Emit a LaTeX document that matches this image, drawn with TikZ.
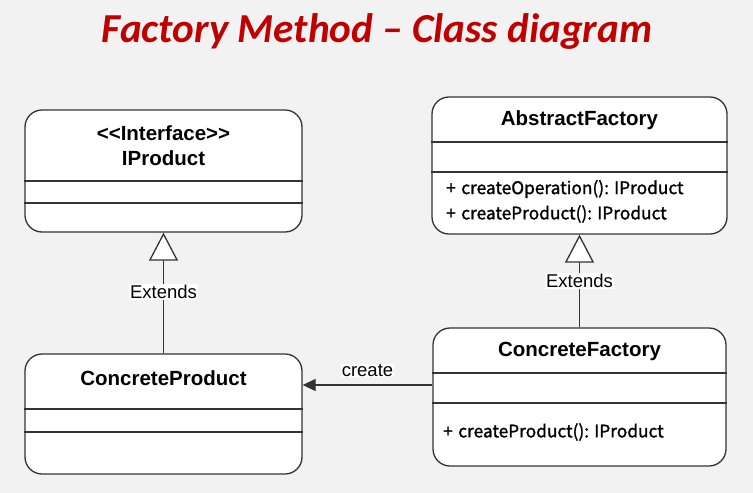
\documentclass[tikz,border=0pt]{standalone}
\usepackage{fontspec}
\setmainfont{Liberation Sans}[Ligatures=NoCommon]
\newfontfamily\titlefont{Carlito}
\newfontfamily\methfont{Noto Sans CJK KR}[FakeBold=1.3]
\usetikzlibrary{arrows.meta,positioning,calc}
\definecolor{bg}{HTML}{F2F2F2}
\definecolor{titlered}{HTML}{C00000}
\definecolor{edge}{HTML}{333333}
\newcommand{\plusgap}{+\hspace{5.5pt}}
\tikzset{
  classbox/.style={draw=edge, fill=white, line width=1.3pt, rounded corners=17pt, inner sep=0pt},
  sepline/.style={draw=edge, line width=1.3pt},
  cname/.style={font=\fontsize{20.5}{25}\selectfont\bfseries, align=center, inner sep=0pt},
  meth/.style={font=\methfont\fontsize{17.3}{20}\selectfont, anchor=west, inner sep=0pt},
  conn/.style={draw=edge, line width=1.3pt},
  lbl/.style={font=\fontsize{18.5}{20}\selectfont, fill=white, inner sep=1pt},
  extarrow/.style={conn, -{Triangle[length=28pt,width=29pt,fill=white,line width=1.3pt]}},
  createarrow/.style={conn, -{Triangle[length=13pt,width=12pt]}}
}
\begin{document}
\begin{tikzpicture}[x=1pt,y=-1pt]
\fill[bg] (0,0) rectangle (753,493);
\useasboundingbox (0,0) rectangle (753,493);
% title
\node[font=\titlefont\fontsize{41.2}{44}\selectfont\bfseries\itshape, text=titlered, anchor=base, inner sep=0pt] (title) at (377,42) {Factory Method – Class diagram};
% IProduct
\node[classbox, minimum width=277pt, minimum height=122pt] (ip) at (163.5,171) {};
\draw[sepline] (ip.west |- 0,181) -- (ip.east |- 0,181);
\draw[sepline] (ip.west |- 0,203) -- (ip.east |- 0,203);
\node[cname] (ipname) at (163.5,145.5) {<{}<Interface>{}>\\IProduct};
% ConcreteProduct
\node[classbox, minimum width=277pt, minimum height=120pt] (cp) at (163.5,414) {};
\draw[sepline] (cp.west |- 0,409) -- (cp.east |- 0,409);
\draw[sepline] (cp.west |- 0,432) -- (cp.east |- 0,432);
\node[cname] (cpname) at (163.5,378) {ConcreteProduct};
% AbstractFactory
\node[classbox, minimum width=295pt, minimum height=137pt] (af) at (579.5,165.5) {};
\draw[sepline] (af.west |- 0,142) -- (af.east |- 0,142);
\draw[sepline] (af.west |- 0,172) -- (af.east |- 0,172);
\node[cname] (afname) at (579.5,120) {AbstractFactory};
\node[meth] (afm1) at (446,189) {\plusgap createOperation(): IProduct};
\node[meth] (afm2) at (446,214) {\plusgap createProduct(): IProduct};
% ConcreteFactory
\node[classbox, minimum width=293pt, minimum height=138pt] (cf) at (579.5,397) {};
\draw[sepline] (cf.west |- 0,373) -- (cf.east |- 0,373);
\draw[sepline] (cf.west |- 0,403) -- (cf.east |- 0,403);
\node[cname] (cfname) at (579.5,351) {ConcreteFactory};
\node[meth] (cfm1) at (443,432) {\plusgap createProduct(): IProduct};
% connectors
\draw[extarrow] (cp.north) -- node[lbl, pos=0.51] (ext1) {Extends} (ip.south);
\draw[extarrow] (cf.north) -- node[lbl, pos=0.5] (ext2) {Extends} (af.south);
\draw[createarrow] ([yshift=12pt]cf.west) -- node[lbl, above=7pt, fill=white, inner sep=0.5pt] (crl) {create} ([yshift=29pt]cp.east);
\end{tikzpicture}
\end{document}
